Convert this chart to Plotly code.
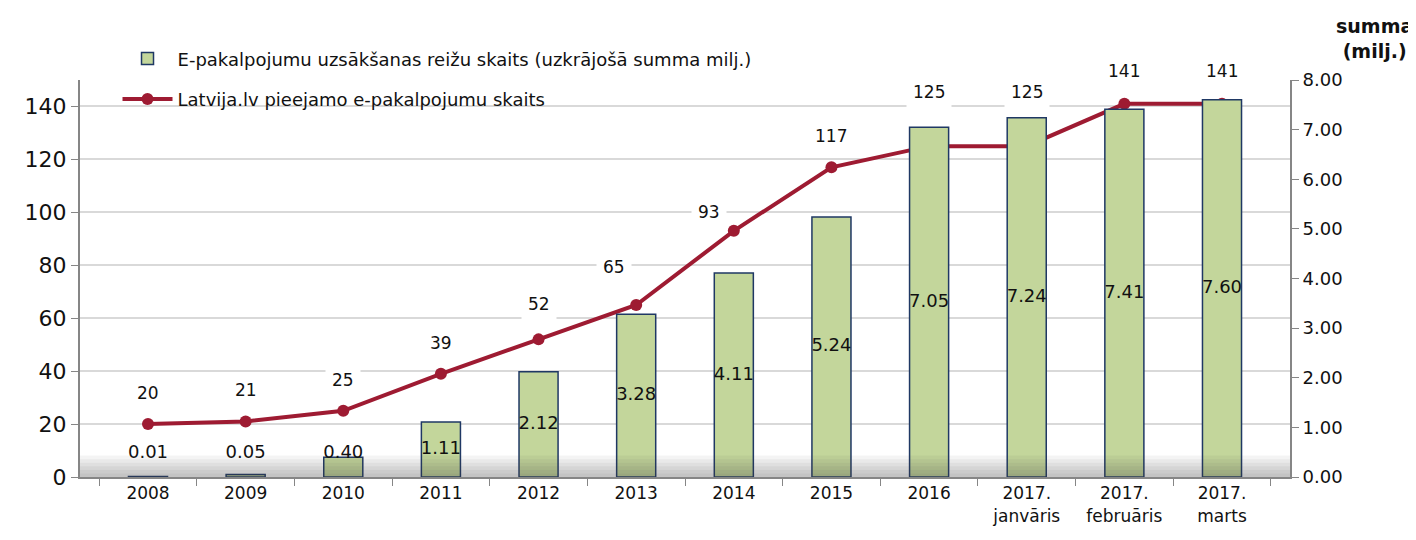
import plotly.graph_objects as go

categories = ["2008", "2009", "2010", "2011", "2012", "2013", "2014", "2015", "2016",
              "2017.<br>janvāris", "2017.<br>februāris", "2017.<br>marts"]
sessions_mln = [0.01, 0.05, 0.40, 1.11, 2.12, 3.28, 4.11, 5.24, 7.05, 7.24, 7.41, 7.60]
services_count = [20, 21, 25, 39, 52, 65, 93, 117, 125, 125, 141, 141]

FONT = "'DejaVu Sans', sans-serif"
BAR_FILL = "#c3d69b"
BAR_EDGE = "#1f3864"
LINE_COLOR = "#9e1b32"

# a few line labels were nudged by hand in the original (xshift, yshift in px)
LABEL_SHIFT_DEFAULT = (0, 31)
LABEL_SHIFTS = {4: (0, 35), 5: (-22, 38), 6: (-25, 19), 8: (0, 54), 9: (0, 54),
                10: (0, 33), 11: (0, 33)}

fig = go.Figure()

fig.add_trace(go.Bar(
    x=categories,
    y=sessions_mln,
    yaxis="y2",
    name="E-pakalpojumu uzsākšanas reižu skaits (uzkrājošā summa milj.)",
    marker=dict(color=BAR_FILL, line=dict(color=BAR_EDGE, width=1.5)),
    width=0.4,
    legendgroup="bars",
))

# bar value labels, middle of the bar (kept off the floor for tiny bars)
fig.add_trace(go.Scatter(
    x=categories,
    y=[max(v / 2, 0.48) for v in sessions_mln],
    yaxis="y2",
    mode="text",
    text=[f"{v:.2f}" for v in sessions_mln],
    textfont=dict(size=18, color="#111111", family=FONT),
    showlegend=False,
    hoverinfo="skip",
))

fig.add_trace(go.Scatter(
    x=categories,
    y=services_count,
    mode="lines+markers",
    name="Latvija.lv pieejamo e-pakalpojumu skaits",
    line=dict(color=LINE_COLOR, width=4),
    marker=dict(color=LINE_COLOR, size=12),
    legendgroup="line",
))

# line value labels; x given as category index (numeric-looking names
# like "2008" would otherwise be read as an index on a category axis)
for i, val in enumerate(services_count):
    dx, dy = LABEL_SHIFTS.get(i, LABEL_SHIFT_DEFAULT)
    fig.add_annotation(
        x=i, y=val, xref="x", yref="y",
        text=str(val), showarrow=False, xshift=dx, yshift=dy,
        bgcolor="white", borderpad=6,
        font=dict(size=17, color="#111111", family=FONT),
    )

fig.add_annotation(
    x=1.07, y=1.17, xref="paper", yref="paper",
    xanchor="center", yanchor="top",
    text="<b>summa<br>(milj.)</b>", showarrow=False,
    font=dict(size=19, color="#111111", family=FONT),
)

# soft floor shadow
for i in range(6):
    fig.add_shape(
        type="rect", xref="paper", yref="paper",
        x0=0, x1=1, y0=0, y1=0.009 * (i + 1),
        fillcolor="#404040", opacity=0.06, line_width=0, layer="above",
    )

# page body has an 8px margin, so margins are trimmed by 8 on left/top
fig.update_layout(
    width=1416,
    height=540,
    template="plotly_white",
    plot_bgcolor="white",
    paper_bgcolor="white",
    margin=dict(l=72, r=134, t=72, b=71),
    font=dict(family=FONT, color="#111111"),
    legend=dict(
        x=0.031, y=1.10, xanchor="left", yanchor="top",
        font=dict(size=18, family=FONT),
        tracegroupgap=14, bgcolor="rgba(0,0,0,0)",
        traceorder="grouped", itemwidth=50,
    ),
    xaxis=dict(
        type="category",
        showline=True, linecolor="#868686", linewidth=2,
        ticks="outside", tickcolor="#868686", ticklen=7,
        tickson="boundaries", showgrid=False,
        tickfont=dict(size=17, family=FONT),
    ),
    yaxis=dict(
        range=[0, 150], dtick=20,
        showline=True, linecolor="#868686", linewidth=2,
        ticks="outside", tickcolor="#868686", ticklen=7,
        gridcolor="#d9d9d9", gridwidth=1.5, zeroline=False,
        tickfont=dict(size=22, family=FONT),
    ),
    yaxis2=dict(
        range=[0, 8], dtick=1, tickformat=".2f",
        overlaying="y", side="right",
        showline=True, linecolor="#868686", linewidth=2,
        ticks="outside", tickcolor="#868686", ticklen=7,
        showgrid=False, zeroline=False,
        tickfont=dict(size=18, family=FONT),
    ),
    bargap=0.6,
)

fig.write_html("out.html")
